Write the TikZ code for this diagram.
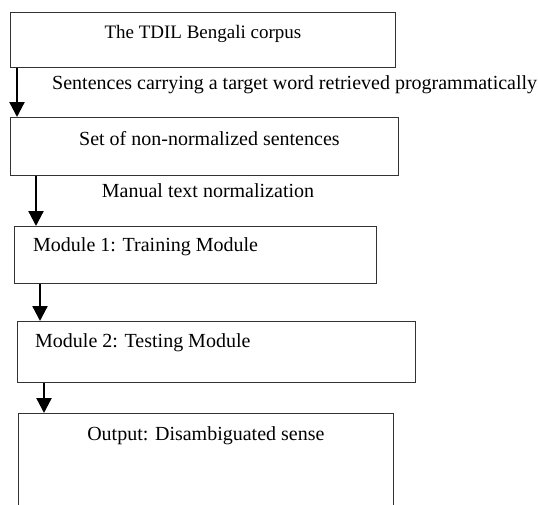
\documentclass[tikz,border=0pt]{standalone}
\usepackage{fontspec}
\setmainfont{Liberation Serif}
\usetikzlibrary{arrows.meta,positioning}
\begin{document}
\begin{tikzpicture}[x=1pt,y=-1pt,
    stagebox/.style={draw=black!80, line width=0.8pt, anchor=north west},
    flow/.style={line width=2.3pt, -{Triangle[length=15pt,width=15pt]}},
    every node/.style={inner sep=0pt, font=\fontsize{20}{24}\selectfont}]
    \clip (0,0) rectangle (538,504);

    \node[stagebox, minimum width=385pt, minimum height=55pt] (corpus) at (10,12) {};
    \node[stagebox, minimum width=388pt, minimum height=58pt] (raw) at (10,117) {};
    \node[stagebox, minimum width=362pt, minimum height=57pt] (train) at (14,226) {};
    \node[stagebox, minimum width=398pt, minimum height=61pt] (test) at (17,321) {};
    \node[stagebox, minimum width=375pt, minimum height=110pt] (output) at (18,413) {};

    \node[anchor=base, font=\fontsize{19}{22}\selectfont] (corpustxt) at ([yshift=-26pt]corpus.north) {The TDIL Bengali corpus};
    \node[anchor=base] (rawtxt) at ([xshift=5pt,yshift=-28pt]raw.north) {Set of non-normalized sentences};
    \node[anchor=base west] (traintxt) at ([xshift=19pt,yshift=-25pt]train.north west) {Module 1: Training Module};
    \node[anchor=base west] (testtxt) at ([xshift=18pt,yshift=-26pt]test.north west) {Module 2: Testing Module};
    \node[anchor=base] (outputtxt) at ([yshift=-27pt]output.north) {Output: Disambiguated sense};

    \node[anchor=base west] (retrieve) at (52,89) {Sentences carrying a target word retrieved programmatically};
    \node[anchor=base] (normalize) at (208,197) {Manual text normalization};

    \coordinate (s1) at ([xshift=7pt]corpus.south west);
    \coordinate (s2) at ([xshift=26pt]raw.south west);
    \coordinate (s3) at ([xshift=26pt]train.south west);
    \coordinate (s4) at ([xshift=27pt]test.south west);

    \draw[flow] (s1) -- (s1 |- raw.north);
    \draw[flow] (s2) -- (s2 |- train.north);
    \draw[flow] (s3) -- (s3 |- test.north);
    \draw[flow] (s4) -- (s4 |- output.north);
\end{tikzpicture}
\end{document}
